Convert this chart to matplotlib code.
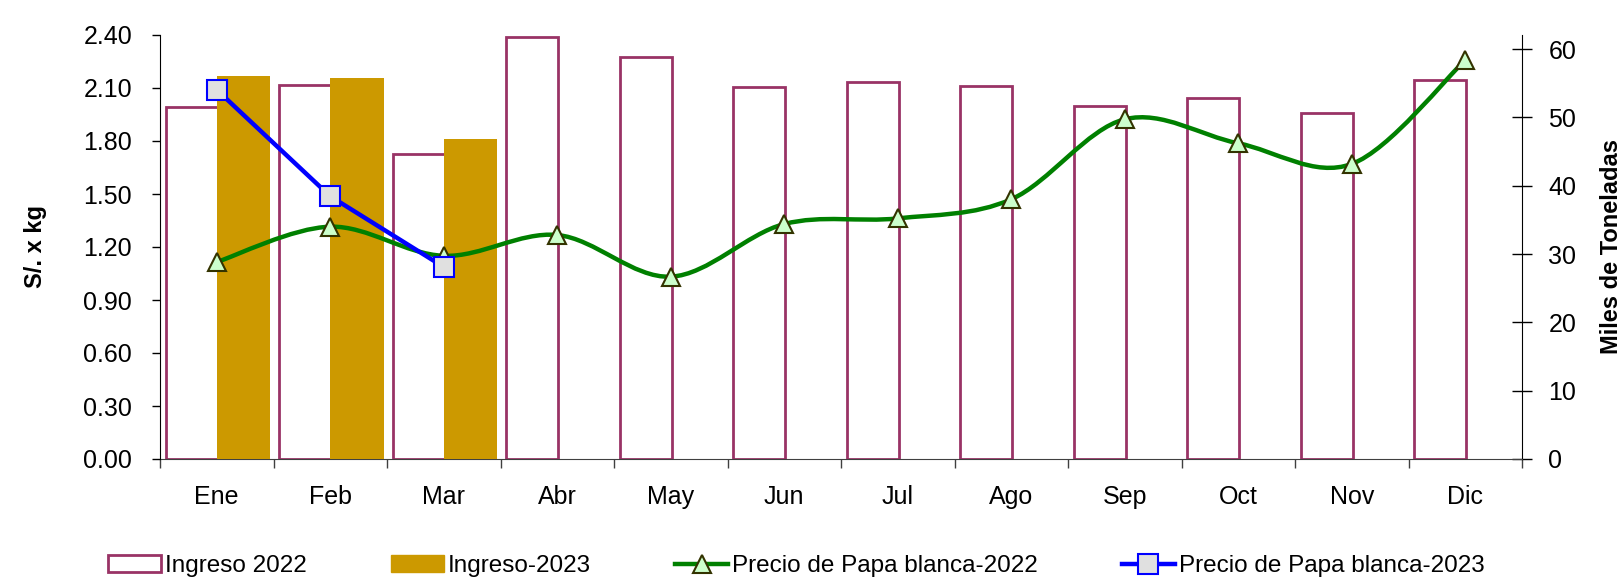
import numpy as np
import matplotlib
matplotlib.use('Agg')
import matplotlib.pyplot as plt
from matplotlib.path import Path
from matplotlib.patches import PathPatch
from matplotlib.lines import Line2D

plt.rcParams['font.family'] = ['Liberation Sans', 'DejaVu Sans']

# data
meses = ['Ene', 'Feb', 'Mar', 'Abr', 'May', 'Jun', 'Jul', 'Ago', 'Sep', 'Oct', 'Nov', 'Dic']
ingreso_2022 = [51.5, 54.7, 44.7, 61.8, 58.8, 54.5, 55.1, 54.6, 51.7, 52.8, 50.7, 55.4]
ingreso_2023 = [56.05, 55.75, 46.9]
precio_2022 = [1.115, 1.315, 1.15, 1.268, 1.032, 1.33, 1.362, 1.47, 1.923, 1.787, 1.67, 2.258]
precio_2023 = [2.09, 1.487, 1.087]

c_2022 = '#993366'
c_2023 = '#CC9900'
c_green = '#008000'
c_blue = '#0000FF'

'''
bezier path through the points, like the smoothed line of a spreadsheet chart
'''
def smooth_path(x, y):
    pts = np.column_stack([x, y]).astype(float)
    n = len(pts)
    verts = [pts[0]]
    codes = [Path.MOVETO]
    for i in range(n - 1):
        p0 = pts[i - 1] if i > 0 else pts[i]
        p1 = pts[i]
        p2 = pts[i + 1]
        p3 = pts[i + 2] if i + 2 < n else pts[i + 1]
        verts += [p1 + (p2 - p0) / 6.0, p2 - (p3 - p1) / 6.0, p2]
        codes += [Path.CURVE4] * 3
    return Path(verts, codes)

fig = plt.figure(figsize=(16.2, 5.78), dpi=100)
ax = fig.add_axes([160/1620, 1-459/578, (1522-160)/1620, (459-35)/578])
ax2 = ax.twinx()
x = np.arange(len(meses))

# bars on the tonnage axis (right side)
ax.bar(x - 0.22, ingreso_2022, width=0.46, facecolor='white', edgecolor=c_2022, linewidth=2, zorder=2)
ax.bar(x[:len(ingreso_2023)] + 0.235, ingreso_2023, width=0.47, color=c_2023, zorder=3)
ax.set_ylim(0, 62.05)
ax.yaxis.tick_right()
ax.yaxis.set_label_position('right')
ax.set_yticks(range(0, 61, 10))
ax.tick_params(axis='y', direction='inout', length=14, width=1, labelsize=18, pad=12)
ax.set_ylabel('Miles de Toneladas', fontsize=17, fontweight='bold', labelpad=17)

ax.set_xlim(-0.5, 11.5)
ax.set_xticks(np.arange(-0.5, 12, 1))
ax.set_xticklabels([])
ax.set_xticks(x, minor=True)
ax.set_xticklabels(meses, minor=True)
ax.tick_params(axis='x', which='major', direction='out', length=6.5, width=1, color='#404040')
ax.tick_params(axis='x', which='minor', length=0, labelsize=18, pad=19)

for s in ['top', 'left']:
    ax.spines[s].set_visible(False)
ax.spines['bottom'].set_color('#404040')
ax.spines['right'].set_color('black')

# prices on the left axis
ax2.yaxis.tick_left()
ax2.yaxis.set_label_position('left')
ax2.set_ylim(0, 2.40)
ax2.set_yticks(np.arange(0, 2.41, 0.30))
ax2.set_yticklabels(['%.2f' % v for v in np.arange(0, 2.41, 0.30)])
ax2.tick_params(axis='y', direction='out', length=6, width=1, labelsize=18, pad=14)
ax2.set_ylabel('S/. x kg', fontsize=17, fontweight='bold', labelpad=26.5)
for s in ['top', 'right', 'bottom']:
    ax2.spines[s].set_visible(False)
ax2.spines['left'].set_visible(True)
ax2.spines['left'].set_color('black')

ax2.add_patch(PathPatch(smooth_path(x, precio_2022), fill=False, edgecolor=c_green, linewidth=3.2, zorder=4))
ax2.plot(x, precio_2022, linestyle='none', marker='^', markersize=13.5, markerfacecolor='#CCFFCC',
         markeredgecolor='#333300', markeredgewidth=1.5, zorder=5)
ax2.plot(x[:len(precio_2023)], precio_2023, color=c_blue, linewidth=3.2, marker='s', markersize=14.5,
         markerfacecolor='#E0E0E0', markeredgecolor=c_blue, markeredgewidth=1.5, zorder=6)

handles = [
    plt.Rectangle((0, 0), 1, 1, facecolor='white', edgecolor=c_2022, linewidth=2),
    plt.Rectangle((0, 0), 1, 1, facecolor=c_2023, edgecolor=c_2023),
    Line2D([], [], color=c_green, linewidth=3.2, marker='^', markersize=13, markerfacecolor='#CCFFCC',
           markeredgecolor='#333300', markeredgewidth=1.5),
    Line2D([], [], color=c_blue, linewidth=3.2, marker='s', markersize=14.5, markerfacecolor='#E0E0E0',
           markeredgecolor=c_blue, markeredgewidth=1.5),
]
labels = ['Ingreso 2022', 'Ingreso-2023', 'Precio de Papa blanca-2022', 'Precio de Papa blanca-2023']
fig.legend(handles, labels, loc='center left', bbox_to_anchor=(108/1620, 1-566/578), ncol=4, frameon=False,
           fontsize=17.5, handlelength=2.2, handletextpad=0.15, columnspacing=3.45, borderaxespad=0, borderpad=0)

fig.savefig('out.png', dpi=100, facecolor='white')
